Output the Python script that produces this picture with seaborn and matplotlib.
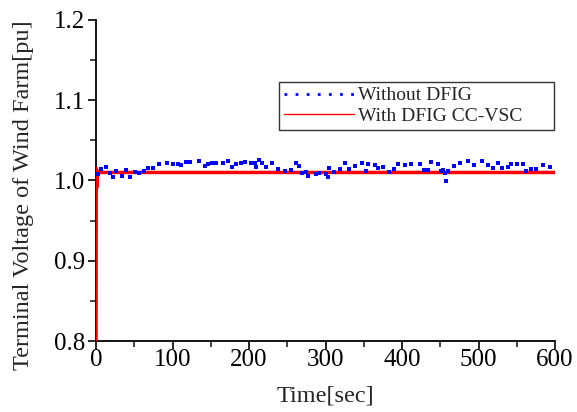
import numpy as np
import pandas as pd
import matplotlib
matplotlib.use('Agg')
import matplotlib.pyplot as plt
from matplotlib.lines import Line2D
from matplotlib.ticker import MultipleLocator
import seaborn as sns

# --- data ---
# blue dots (without DFIG), time [sec] and voltage [pu]
t_without = [3, 6.5, 12.6, 18.7, 22.7, 26.6, 33.5, 38.8, 44.9, 50.5, 56.2, 63.2, 68.4, 74.1,
             82.4, 92.4, 100.2, 107.6, 111.5, 117.6, 123.3, 134.2, 142.9, 146.4, 151.6, 157.3,
             166.4, 173, 178.2, 183.4, 189.5, 195.2, 202.2, 207.4, 209.5, 213.5, 217.4, 222.6,
             230.5, 237.5, 247, 255.3, 261, 265.4, 269.7, 274.1, 277.5, 288, 291.5, 300.3,
             302.9, 304.6, 311.5, 318.5, 325.5, 331.1, 338.1, 347.7, 352.5, 355.5, 365, 369,
             375.5, 382.6, 389, 395.2, 403.5, 411.8, 423, 429.2, 434.4, 437.9, 446.6, 450.5,
             454, 456.2, 458, 460, 467.5, 476.2, 486.7, 494.5, 504.2, 512.4, 519.3, 525.5,
             530.7, 539, 543, 549.9, 558.6, 562.5, 569, 575.6, 584.7, 593.5]
v_without = [1.0077, 1.014, 1.0168, 1.0097, 1.004, 1.0122, 1.0056, 1.013, 1.0044, 1.010, 1.009,
             1.0118, 1.016, 1.016, 1.020, 1.022, 1.021, 1.021, 1.019, 1.0227, 1.0234, 1.024,
             1.0185, 1.020, 1.0214, 1.0214, 1.022, 1.0239, 1.0168, 1.0206, 1.0218, 1.0227,
             1.0214, 1.0214, 1.0164, 1.0252, 1.0214, 1.0168, 1.0214, 1.0143, 1.0122, 1.0135,
             1.0218, 1.018, 1.009, 1.011, 1.0056, 1.0077, 1.009, 1.0077, 1.0044, 1.0156, 1.011,
             1.0143, 1.0218, 1.0147, 1.0185, 1.0214, 1.0122, 1.020, 1.019, 1.016, 1.0164, 1.011,
             1.014, 1.021, 1.0197, 1.021, 1.021, 1.0127, 1.0127, 1.0231, 1.020, 1.0118, 1.013,
             1.009, 0.9998, 1.0118, 1.0177, 1.0218, 1.0247, 1.019, 1.0247, 1.019, 1.0152,
             1.0218, 1.0156, 1.0172, 1.020, 1.021, 1.021, 1.0122, 1.014, 1.014, 1.019, 1.0164]
# start-up ramp of the blue trace
t_without_start = [0.5, 0.5, 2]
v_without_start = [0.8, 0.99, 1.005]

# red line (with DFIG CC-VSC)
t_with = [0, 0.3, 0.6, 1.0, 1.4, 1.8, 2.2, 600]
v_with = [0.8, 1.015, 0.99, 1.013, 0.993, 1.011, 1.01, 1.01]

df_without = pd.DataFrame({'t': t_without, 'v': v_without})
df_start = pd.DataFrame({'t': t_without_start, 'v': v_without_start})
df_with = pd.DataFrame({'t': t_with, 'v': v_with})

sns.set_style('ticks')
plt.rcParams['font.family'] = ['Liberation Serif', 'DejaVu Serif']

fig = plt.figure(figsize=(5.77, 4.12), dpi=100)
ax = fig.add_axes([0.1664, 0.1723, 0.7955, 0.7792])

sns.lineplot(data=df_start, x='t', y='v', ax=ax, color='#5a5aff', lw=1.5, ls=(0, (1, 4)),
             sort=False, estimator=None)
sns.lineplot(data=df_with, x='t', y='v', ax=ax, color='red', lw=2.5, sort=False, estimator=None,
             zorder=3)
sns.scatterplot(data=df_without, x='t', y='v', ax=ax, color='blue', s=8, marker='s',
                linewidth=0, zorder=4)

ax.set_xlim(0, 600)
ax.set_ylim(0.8, 1.2)
ax.xaxis.set_major_locator(MultipleLocator(100))
ax.xaxis.set_minor_locator(MultipleLocator(50))
ax.yaxis.set_major_locator(MultipleLocator(0.1))
ax.yaxis.set_minor_locator(MultipleLocator(0.05))
ax.yaxis.set_major_formatter(matplotlib.ticker.FormatStrFormatter('%.1f'))
ax.tick_params(which='major', direction='out', length=6, width=1.2, labelsize=18, colors='black')
ax.tick_params(which='minor', direction='out', length=4, width=1.2)
ax.tick_params(axis='x', pad=0)
ax.tick_params(axis='y', pad=2)
sns.despine(ax=ax)
plt.setp(ax.spines.values(), linewidth=1.3, color='black')

ax.set_xlabel('Time[sec]', fontsize=17.5, labelpad=10)
ax.set_ylabel('Terminal Voltage of Wind Farm[pu]', fontsize=17.5)
ax.yaxis.set_label_coords(-0.135, 0.455)

handles = [Line2D([], [], color='blue', lw=2, ls=(0, (1, 3))),
           Line2D([], [], color='red', lw=1)]
leg = ax.legend(handles, ['Without DFIG', 'With DFIG CC-VSC'], loc='upper left',
                bbox_to_anchor=(0.399, 0.657, 0.599, 0.15), mode='expand', fontsize=14,
                frameon=True, fancybox=False, handlelength=3.6, handletextpad=0.2,
                borderpad=0.25, labelspacing=0.15, borderaxespad=0)
leg.get_frame().set_edgecolor('black')
leg.get_frame().set_linewidth(1)

plt.savefig('out.png', dpi=100)
